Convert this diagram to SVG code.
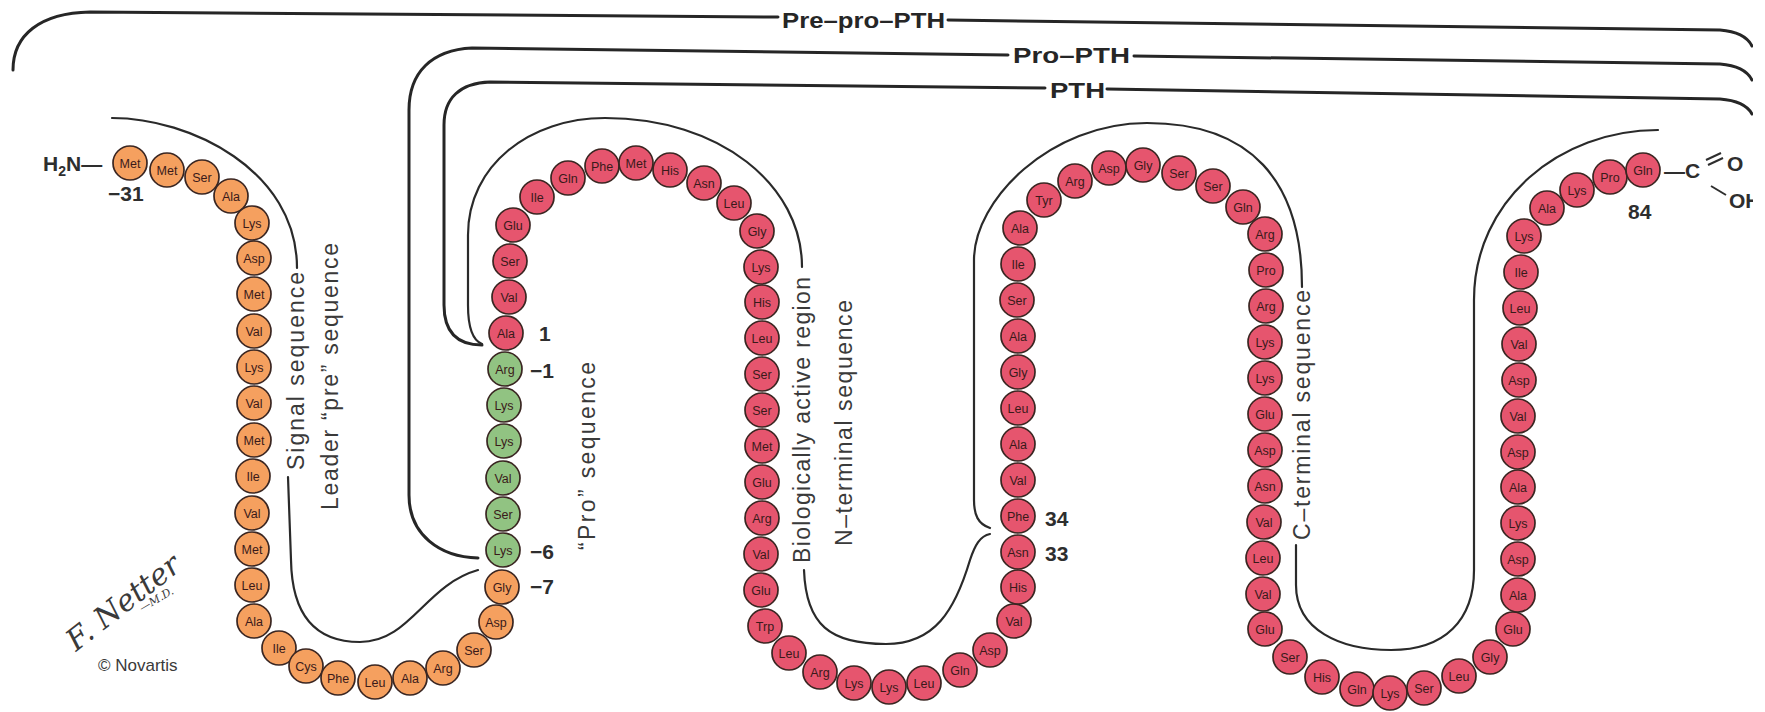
<svg xmlns="http://www.w3.org/2000/svg" width="1765" height="712" viewBox="0 0 1765 712">
<style>
.bead circle{stroke:#3a2622;stroke-width:1.7}
.o circle{fill:#F5A05F}
.g circle{fill:#91C382}
.r circle{fill:#E6556E}
.bead text{font-family:"Liberation Sans",Arial,sans-serif;font-size:12.5px;fill:#3a1a1a;text-anchor:middle}
.br{fill:none;stroke:#2a2a2a;stroke-width:2.2;stroke-linecap:round}
.brk{fill:none;stroke:#262626;stroke-width:3;stroke-linecap:round}
.lab{font-family:"Liberation Sans",Arial,sans-serif;font-size:23px;fill:#3a3a3a}
.num{font-family:"Liberation Sans",Arial,sans-serif;font-size:21px;font-weight:bold;fill:#2e2e2e}
.top{font-family:"Liberation Sans",Arial,sans-serif;font-size:22px;font-weight:bold;fill:#262626}
</style>
<defs>
<clipPath id="edge"><rect x="0" y="0" width="1753" height="712"/></clipPath>
</defs>
<rect width="1765" height="712" fill="#ffffff"/>

<g id="connectors" clip-path="url(#edge)">
<path class="brk" d="M13,70 C13,35 40,13 90,12 L778,17 M948,20 L1720,30 Q1745,32 1752,46"/>
<path class="brk" d="M478,558 C440,557 409,535 409,495 L409,110 C409,72 432,50 472,48 L1008,55 M1134,56 L1720,64 Q1745,66 1752,80"/>
<path class="brk" d="M482,345 C455,345 444,330 444,305 L444,125 C444,98 460,83 490,82 L1045,88 M1107,89 L1720,99 Q1745,101 1752,114"/>
<path class="br" d="M112,118 C190,118 297,170 297,268"/>
<path class="br" d="M288,477 L291,560 C292,620 320,642 360,642 C410,642 425,585 478,570"/>
<path class="br" d="M482,344 C472,340 468,325 468,305 L468,235 C468,165 530,118 605,118 C720,118 802,185 802,267"/>
<path class="br" d="M804,570 C806,625 830,644 886,644 C935,644 955,610 970,560 C975,545 980,536 990,534"/>
<path class="br" d="M990,528 C978,524 974,515 974,500 L974,260 C974,200 1050,123 1147,123 C1250,123 1302,180 1302,287"/>
<path class="br" d="M1296,545 L1296,585 C1296,630 1340,650 1391,650 C1445,650 1474,620 1474,570 L1474,300 C1474,200 1560,130 1658,130"/>
</g>

<g id="labels">
<text class="top" x="782" y="28" textLength="163" lengthAdjust="spacingAndGlyphs">Pre–pro–PTH</text>
<text class="top" x="1013" y="63" textLength="117" lengthAdjust="spacingAndGlyphs">Pro–PTH</text>
<text class="top" x="1050" y="98" textLength="55" lengthAdjust="spacingAndGlyphs">PTH</text>
<text class="lab" transform="translate(304,470) rotate(-90)" textLength="198" lengthAdjust="spacing">Signal sequence</text>
<text class="lab" transform="translate(338,510) rotate(-90)" textLength="267" lengthAdjust="spacing">Leader “pre” sequence</text>
<text class="lab" transform="translate(595,550) rotate(-90)" textLength="188" lengthAdjust="spacing">“Pro” sequence</text>
<text class="lab" transform="translate(810,563) rotate(-90)" textLength="286" lengthAdjust="spacing">Biologically active region</text>
<text class="lab" transform="translate(852,546) rotate(-90)" textLength="246" lengthAdjust="spacing">N–terminal sequence</text>
<text class="lab" transform="translate(1310,540) rotate(-90)" textLength="250" lengthAdjust="spacing">C–terminal sequence</text>
<text class="num" x="43" y="171" font-size="22">H<tspan font-size="14" dy="5">2</tspan><tspan dy="-5">N—</tspan></text>
<text class="num" x="108" y="201">−31</text>
<text class="num" x="539" y="341">1</text>
<text class="num" x="530" y="378">−1</text>
<text class="num" x="530" y="559">−6</text>
<text class="num" x="530" y="594">−7</text>
<text class="num" x="1045" y="526">34</text>
<text class="num" x="1045" y="561">33</text>
<text class="num" x="1628" y="219">84</text>
</g>

<g id="carboxyl" clip-path="url(#edge)">
<text class="num" x="1664" y="178">—C</text>
<line x1="1706" y1="160" x2="1721" y2="153" stroke="#2e2e2e" stroke-width="2"/>
<line x1="1708" y1="165" x2="1723" y2="158" stroke="#2e2e2e" stroke-width="2"/>
<line x1="1711" y1="186" x2="1726" y2="195" stroke="#2e2e2e" stroke-width="2"/>
<text class="num" x="1727" y="171">O</text>
<text class="num" x="1729" y="208">OH</text>
</g>

<g id="signature" fill="#3a3a3a">
<text transform="translate(76,652) rotate(-38)" font-family="'DejaVu Serif',serif" font-style="italic" font-size="30">F. Netter</text>
<text transform="translate(142,612) rotate(-30)" font-family="'DejaVu Serif',serif" font-style="italic" font-size="11">—M.D.</text>
<text x="98" y="671" font-family="'Liberation Sans',Arial,sans-serif" font-size="17">© Novartis</text>
</g>

<g id="pre-sequence" class="o">
<g id="aa-31" class="bead" transform="translate(130,163)"><circle r="17"/><text y="4.5">Met</text></g>
<g id="aa-30" class="bead" transform="translate(167,170)"><circle r="17"/><text y="4.5">Met</text></g>
<g id="aa-29" class="bead" transform="translate(202,177)"><circle r="17"/><text y="4.5">Ser</text></g>
<g id="aa-28" class="bead" transform="translate(231,196)"><circle r="17"/><text y="4.5">Ala</text></g>
<g id="aa-27" class="bead" transform="translate(252,223)"><circle r="17"/><text y="4.5">Lys</text></g>
<g id="aa-26" class="bead" transform="translate(254,258)"><circle r="17"/><text y="4.5">Asp</text></g>
<g id="aa-25" class="bead" transform="translate(254,294)"><circle r="17"/><text y="4.5">Met</text></g>
<g id="aa-24" class="bead" transform="translate(254,331)"><circle r="17"/><text y="4.5">Val</text></g>
<g id="aa-23" class="bead" transform="translate(254,367)"><circle r="17"/><text y="4.5">Lys</text></g>
<g id="aa-22" class="bead" transform="translate(254,403)"><circle r="17"/><text y="4.5">Val</text></g>
<g id="aa-21" class="bead" transform="translate(254,440)"><circle r="17"/><text y="4.5">Met</text></g>
<g id="aa-20" class="bead" transform="translate(253,476)"><circle r="17"/><text y="4.5">Ile</text></g>
<g id="aa-19" class="bead" transform="translate(252,513)"><circle r="17"/><text y="4.5">Val</text></g>
<g id="aa-18" class="bead" transform="translate(252,549)"><circle r="17"/><text y="4.5">Met</text></g>
<g id="aa-17" class="bead" transform="translate(252,585)"><circle r="17"/><text y="4.5">Leu</text></g>
<g id="aa-16" class="bead" transform="translate(254,621)"><circle r="17"/><text y="4.5">Ala</text></g>
<g id="aa-15" class="bead" transform="translate(279,648)"><circle r="17"/><text y="4.5">Ile</text></g>
<g id="aa-14" class="bead" transform="translate(306,666)"><circle r="17"/><text y="4.5">Cys</text></g>
<g id="aa-13" class="bead" transform="translate(338,678)"><circle r="17"/><text y="4.5">Phe</text></g>
<g id="aa-12" class="bead" transform="translate(375,682)"><circle r="17"/><text y="4.5">Leu</text></g>
<g id="aa-11" class="bead" transform="translate(410,678)"><circle r="17"/><text y="4.5">Ala</text></g>
<g id="aa-10" class="bead" transform="translate(443,668)"><circle r="17"/><text y="4.5">Arg</text></g>
<g id="aa-9" class="bead" transform="translate(474,650)"><circle r="17"/><text y="4.5">Ser</text></g>
<g id="aa-8" class="bead" transform="translate(496,622)"><circle r="17"/><text y="4.5">Asp</text></g>
<g id="aa-7" class="bead" transform="translate(502,587)"><circle r="17"/><text y="4.5">Gly</text></g>
</g>

<g id="pro-sequence" class="g">
<g id="aa-6" class="bead" transform="translate(503,550)"><circle r="17"/><text y="4.5">Lys</text></g>
<g id="aa-5" class="bead" transform="translate(503,514)"><circle r="17"/><text y="4.5">Ser</text></g>
<g id="aa-4" class="bead" transform="translate(503,478)"><circle r="17"/><text y="4.5">Val</text></g>
<g id="aa-3" class="bead" transform="translate(504,441)"><circle r="17"/><text y="4.5">Lys</text></g>
<g id="aa-2" class="bead" transform="translate(504,405)"><circle r="17"/><text y="4.5">Lys</text></g>
<g id="aa-1" class="bead" transform="translate(505,369)"><circle r="17"/><text y="4.5">Arg</text></g>
</g>

<g id="pth" class="r">
<g id="aa1" class="bead" transform="translate(506,333)"><circle r="17"/><text y="4.5">Ala</text></g>
<g id="aa2" class="bead" transform="translate(509,297)"><circle r="17"/><text y="4.5">Val</text></g>
<g id="aa3" class="bead" transform="translate(510,261)"><circle r="17"/><text y="4.5">Ser</text></g>
<g id="aa4" class="bead" transform="translate(513,225)"><circle r="17"/><text y="4.5">Glu</text></g>
<g id="aa5" class="bead" transform="translate(537,197)"><circle r="17"/><text y="4.5">Ile</text></g>
<g id="aa6" class="bead" transform="translate(568,178)"><circle r="17"/><text y="4.5">Gln</text></g>
<g id="aa7" class="bead" transform="translate(602,166)"><circle r="17"/><text y="4.5">Phe</text></g>
<g id="aa8" class="bead" transform="translate(636,163)"><circle r="17"/><text y="4.5">Met</text></g>
<g id="aa9" class="bead" transform="translate(670,170)"><circle r="17"/><text y="4.5">His</text></g>
<g id="aa10" class="bead" transform="translate(704,183)"><circle r="17"/><text y="4.5">Asn</text></g>
<g id="aa11" class="bead" transform="translate(734,203)"><circle r="17"/><text y="4.5">Leu</text></g>
<g id="aa12" class="bead" transform="translate(757,231)"><circle r="17"/><text y="4.5">Gly</text></g>
<g id="aa13" class="bead" transform="translate(761,267)"><circle r="17"/><text y="4.5">Lys</text></g>
<g id="aa14" class="bead" transform="translate(762,302)"><circle r="17"/><text y="4.5">His</text></g>
<g id="aa15" class="bead" transform="translate(762,338)"><circle r="17"/><text y="4.5">Leu</text></g>
<g id="aa16" class="bead" transform="translate(762,374)"><circle r="17"/><text y="4.5">Ser</text></g>
<g id="aa17" class="bead" transform="translate(762,410)"><circle r="17"/><text y="4.5">Ser</text></g>
<g id="aa18" class="bead" transform="translate(762,446)"><circle r="17"/><text y="4.5">Met</text></g>
<g id="aa19" class="bead" transform="translate(762,482)"><circle r="17"/><text y="4.5">Glu</text></g>
<g id="aa20" class="bead" transform="translate(762,518)"><circle r="17"/><text y="4.5">Arg</text></g>
<g id="aa21" class="bead" transform="translate(761,554)"><circle r="17"/><text y="4.5">Val</text></g>
<g id="aa22" class="bead" transform="translate(761,590)"><circle r="17"/><text y="4.5">Glu</text></g>
<g id="aa23" class="bead" transform="translate(765,626)"><circle r="17"/><text y="4.5">Trp</text></g>
<g id="aa24" class="bead" transform="translate(789,653)"><circle r="17"/><text y="4.5">Leu</text></g>
<g id="aa25" class="bead" transform="translate(820,672)"><circle r="17"/><text y="4.5">Arg</text></g>
<g id="aa26" class="bead" transform="translate(854,683)"><circle r="17"/><text y="4.5">Lys</text></g>
<g id="aa27" class="bead" transform="translate(889,687)"><circle r="17"/><text y="4.5">Lys</text></g>
<g id="aa28" class="bead" transform="translate(924,683)"><circle r="17"/><text y="4.5">Leu</text></g>
<g id="aa29" class="bead" transform="translate(960,670)"><circle r="17"/><text y="4.5">Gln</text></g>
<g id="aa30" class="bead" transform="translate(990,650)"><circle r="17"/><text y="4.5">Asp</text></g>
<g id="aa31" class="bead" transform="translate(1014,621)"><circle r="17"/><text y="4.5">Val</text></g>
<g id="aa32" class="bead" transform="translate(1018,587)"><circle r="17"/><text y="4.5">His</text></g>
<g id="aa33" class="bead" transform="translate(1018,552)"><circle r="17"/><text y="4.5">Asn</text></g>
<g id="aa34" class="bead" transform="translate(1018,516)"><circle r="17"/><text y="4.5">Phe</text></g>
<g id="aa35" class="bead" transform="translate(1018,480)"><circle r="17"/><text y="4.5">Val</text></g>
<g id="aa36" class="bead" transform="translate(1018,444)"><circle r="17"/><text y="4.5">Ala</text></g>
<g id="aa37" class="bead" transform="translate(1018,408)"><circle r="17"/><text y="4.5">Leu</text></g>
<g id="aa38" class="bead" transform="translate(1018,372)"><circle r="17"/><text y="4.5">Gly</text></g>
<g id="aa39" class="bead" transform="translate(1018,336)"><circle r="17"/><text y="4.5">Ala</text></g>
<g id="aa40" class="bead" transform="translate(1017,300)"><circle r="17"/><text y="4.5">Ser</text></g>
<g id="aa41" class="bead" transform="translate(1018,264)"><circle r="17"/><text y="4.5">Ile</text></g>
<g id="aa42" class="bead" transform="translate(1020,228)"><circle r="17"/><text y="4.5">Ala</text></g>
<g id="aa43" class="bead" transform="translate(1044,200)"><circle r="17"/><text y="4.5">Tyr</text></g>
<g id="aa44" class="bead" transform="translate(1075,181)"><circle r="17"/><text y="4.5">Arg</text></g>
<g id="aa45" class="bead" transform="translate(1109,168)"><circle r="17"/><text y="4.5">Asp</text></g>
<g id="aa46" class="bead" transform="translate(1143,165)"><circle r="17"/><text y="4.5">Gly</text></g>
<g id="aa47" class="bead" transform="translate(1179,173)"><circle r="17"/><text y="4.5">Ser</text></g>
<g id="aa48" class="bead" transform="translate(1213,186)"><circle r="17"/><text y="4.5">Ser</text></g>
<g id="aa49" class="bead" transform="translate(1243,207)"><circle r="17"/><text y="4.5">Gln</text></g>
<g id="aa50" class="bead" transform="translate(1265,234)"><circle r="17"/><text y="4.5">Arg</text></g>
<g id="aa51" class="bead" transform="translate(1266,270)"><circle r="17"/><text y="4.5">Pro</text></g>
<g id="aa52" class="bead" transform="translate(1266,306)"><circle r="17"/><text y="4.5">Arg</text></g>
<g id="aa53" class="bead" transform="translate(1265,342)"><circle r="17"/><text y="4.5">Lys</text></g>
<g id="aa54" class="bead" transform="translate(1265,378)"><circle r="17"/><text y="4.5">Lys</text></g>
<g id="aa55" class="bead" transform="translate(1265,414)"><circle r="17"/><text y="4.5">Glu</text></g>
<g id="aa56" class="bead" transform="translate(1265,450)"><circle r="17"/><text y="4.5">Asp</text></g>
<g id="aa57" class="bead" transform="translate(1265,486)"><circle r="17"/><text y="4.5">Asn</text></g>
<g id="aa58" class="bead" transform="translate(1264,522)"><circle r="17"/><text y="4.5">Val</text></g>
<g id="aa59" class="bead" transform="translate(1263,558)"><circle r="17"/><text y="4.5">Leu</text></g>
<g id="aa60" class="bead" transform="translate(1263,594)"><circle r="17"/><text y="4.5">Val</text></g>
<g id="aa61" class="bead" transform="translate(1265,629)"><circle r="17"/><text y="4.5">Glu</text></g>
<g id="aa62" class="bead" transform="translate(1290,657)"><circle r="17"/><text y="4.5">Ser</text></g>
<g id="aa63" class="bead" transform="translate(1322,677)"><circle r="17"/><text y="4.5">His</text></g>
<g id="aa64" class="bead" transform="translate(1357,689)"><circle r="17"/><text y="4.5">Gln</text></g>
<g id="aa65" class="bead" transform="translate(1390,693)"><circle r="17"/><text y="4.5">Lys</text></g>
<g id="aa66" class="bead" transform="translate(1424,688)"><circle r="17"/><text y="4.5">Ser</text></g>
<g id="aa67" class="bead" transform="translate(1459,676)"><circle r="17"/><text y="4.5">Leu</text></g>
<g id="aa68" class="bead" transform="translate(1490,657)"><circle r="17"/><text y="4.5">Gly</text></g>
<g id="aa69" class="bead" transform="translate(1513,629)"><circle r="17"/><text y="4.5">Glu</text></g>
<g id="aa70" class="bead" transform="translate(1518,595)"><circle r="17"/><text y="4.5">Ala</text></g>
<g id="aa71" class="bead" transform="translate(1518,559)"><circle r="17"/><text y="4.5">Asp</text></g>
<g id="aa72" class="bead" transform="translate(1518,523)"><circle r="17"/><text y="4.5">Lys</text></g>
<g id="aa73" class="bead" transform="translate(1518,487)"><circle r="17"/><text y="4.5">Ala</text></g>
<g id="aa74" class="bead" transform="translate(1518,452)"><circle r="17"/><text y="4.5">Asp</text></g>
<g id="aa75" class="bead" transform="translate(1518,416)"><circle r="17"/><text y="4.5">Val</text></g>
<g id="aa76" class="bead" transform="translate(1519,380)"><circle r="17"/><text y="4.5">Asp</text></g>
<g id="aa77" class="bead" transform="translate(1519,344)"><circle r="17"/><text y="4.5">Val</text></g>
<g id="aa78" class="bead" transform="translate(1520,308)"><circle r="17"/><text y="4.5">Leu</text></g>
<g id="aa79" class="bead" transform="translate(1521,272)"><circle r="17"/><text y="4.5">Ile</text></g>
<g id="aa80" class="bead" transform="translate(1524,236)"><circle r="17"/><text y="4.5">Lys</text></g>
<g id="aa81" class="bead" transform="translate(1547,208)"><circle r="17"/><text y="4.5">Ala</text></g>
<g id="aa82" class="bead" transform="translate(1577,190)"><circle r="17"/><text y="4.5">Lys</text></g>
<g id="aa83" class="bead" transform="translate(1610,177)"><circle r="17"/><text y="4.5">Pro</text></g>
<g id="aa84" class="bead" transform="translate(1643,170)"><circle r="17"/><text y="4.5">Gln</text></g>
</g>
</svg>
